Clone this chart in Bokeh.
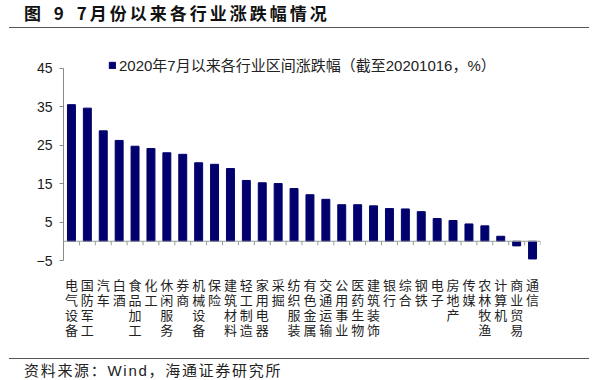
import math
from bokeh.plotting import figure
from bokeh.models import (ColumnDataSource, FixedTicker, Span, Legend, LegendItem, Div)
from bokeh.core.properties import value
from bokeh.layouts import column
from bokeh.embed import file_html
from bokeh.resources import INLINE

title_text = "图 9 7月份以来各行业涨跌幅情况"
source_text = "资料来源：Wind，海通证券研究所"
series_name = "2020年7月以来各行业区间涨跌幅（截至20201016，%）"

categories = ["电气设备", "国防军工", "汽车", "白酒", "食品加工", "化工", "休闲服务", "券商",
              "机械设备", "保险", "建筑材料", "轻工制造", "家用电器", "采掘", "纺织服装",
              "有色金属", "交通运输", "公用事业", "医药生物", "建筑装饰", "银行", "综合",
              "钢铁", "电子", "房地产", "传媒", "农林牧渔", "计算机", "商业贸易", "通信"]
values = [35.5, 34.6, 28.7, 26.2, 24.7, 24.1, 23.0, 22.6, 20.4, 20.0, 18.9, 15.8, 15.2,
          15.0, 13.7, 12.1, 10.9, 9.5, 9.5, 9.2, 8.5, 8.4, 7.7, 5.9, 5.4, 4.5, 4.0,
          1.3, -1.2, -4.6]
y_ticks = [-5, 5, 15, 25, 35, 45]

n = len(categories)
idx = list(range(n))
src = ColumnDataSource(dict(x=idx, top=values, name=categories))

# layout geometry (pixels)
FRAME_W, FRAME_H = 477, 295
AXIS_PX = 202            # pixels from y=-5 to the top of the frame
Y_TOP = 47.5
scale = AXIS_PX / (Y_TOP - y_ticks[0])
y_start = Y_TOP - FRAME_H / scale

p = figure(frame_width=FRAME_W, frame_height=FRAME_H, output_backend="svg",
           toolbar_location=None, x_axis_location=None,
           x_range=(-0.5, n - 0.5), y_range=(y_start, Y_TOP),
           min_border_left=63, min_border_right=40, min_border_top=25, min_border_bottom=0)
p.outline_line_color = None
p.xgrid.visible = False
p.ygrid.visible = False
p.background_fill_color = "white"
p.border_fill_color = "white"

bars = p.vbar(x="x", top="top", bottom=0, width=0.5, source=src,
              fill_color="#00006E", line_color="#00006E")

# zero baseline and category boundary ticks
p.add_layout(Span(location=0, dimension="width", line_color="#9a9a9a", line_width=1))
bounds = [i - 0.5 for i in range(n + 1)]
p.ray(x=bounds, y=[0] * len(bounds), length=4, length_units="screen",
      angle=-math.pi / 2, line_color="#9a9a9a", line_width=1)

# category labels: one character per row, stacked vertically below the axis
lx, lt, lo = [], [], []
for i, c in enumerate(categories):
    for j, ch in enumerate(c):
        lx.append(i)
        lt.append(ch)
        lo.append(24 + 15 * j)
p.text(x=lx, y=[y_ticks[0]] * len(lx), text=lt, y_offset=lo,
       text_font=value("Noto Sans CJK SC"), text_font_size="13px",
       text_align="center", text_baseline="middle", text_color="#222222")

# y axis
ya = p.yaxis[0]
ya.ticker = FixedTicker(ticks=y_ticks)
ya.bounds = (y_ticks[0], y_ticks[-1])
ya.axis_line_color = "#8a8a8a"
ya.major_tick_line_color = "#8a8a8a"
ya.major_tick_out = 4
ya.major_tick_in = 0
ya.minor_tick_line_color = None
ya.major_label_standoff = 7
ya.major_label_text_font = "Liberation Sans"
ya.major_label_text_font_size = "14px"
ya.major_label_text_color = "#1a1a1a"

legend = Legend(items=[LegendItem(label=series_name, renderers=[bars])],
                location=(45, FRAME_H - 17), padding=0, margin=0, spacing=0,
                glyph_width=8, glyph_height=8, label_standoff=3, label_height=14,
                label_text_font="Liberation Sans, Noto Sans CJK SC", label_text_font_size="15px",
                label_text_color="#222222", border_line_color=None,
                background_fill_alpha=0)
p.add_layout(legend)

title_html = (
    '<div style="position:relative;width:584px;height:23px;">'
    '<div style="position:absolute;left:4px;top:22px;width:580px;height:0;border-top:1.5px solid #555;"></div>'
    '<div style="position:absolute;left:19px;top:-1px;white-space:nowrap;font-family:\'Noto Sans CJK SC\';'
    'font-weight:bold;font-size:17px;letter-spacing:3px;word-spacing:3px;line-height:17px;color:#111;">'
    f'{title_text}</div></div>'
)
foot_html = (
    '<div style="position:relative;width:584px;height:26px;">'
    '<div style="position:absolute;left:4px;top:0px;width:580px;height:0;border-top:1.5px solid #555;"></div>'
    '<div style="position:absolute;left:19px;top:5px;white-space:nowrap;font-family:\'Liberation Sans\',\'Noto Sans CJK SC\';'
    'font-size:15px;letter-spacing:1.7px;line-height:16px;color:#222;">'
    f'{source_text}</div></div>'
)
title_div = Div(text=title_html, width=588, height=23)
foot_div = Div(text=foot_html, width=588, height=26)

layout = column(title_div, p, foot_div, spacing=0)

open("out.html", "w").write(file_html(layout, INLINE))
